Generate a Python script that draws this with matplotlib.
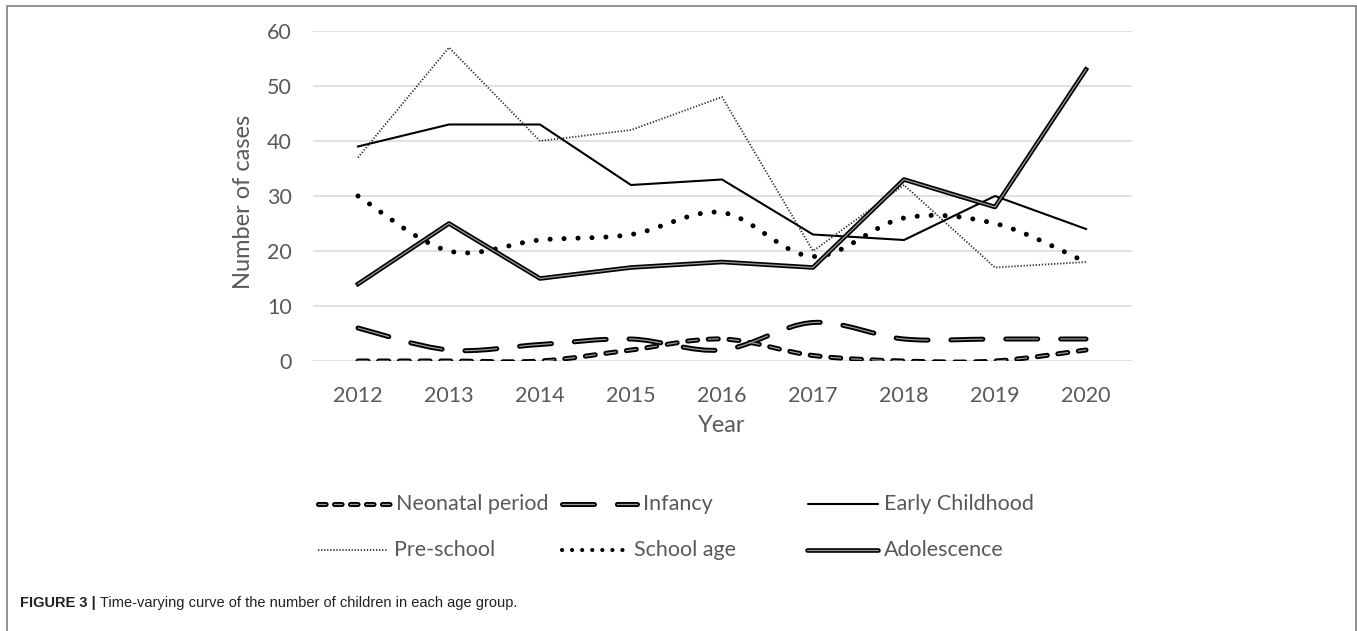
import numpy as np
import matplotlib
matplotlib.use("Agg")
import matplotlib.pyplot as plt
from matplotlib.path import Path
from matplotlib.patches import PathPatch, Rectangle
from matplotlib.lines import Line2D

plt.rcParams['lines.scale_dashes'] = False
plt.rcParams['font.family'] = ['Lato', 'DejaVu Sans']

years = [2012, 2013, 2014, 2015, 2016, 2017, 2018, 2019, 2020]
neonatal = [0, 0, 0, 2, 4, 1, 0, 0, 2]
infancy = [6, 2, 3, 4, 2, 7, 4, 4, 4]
early_childhood = [39, 43, 43, 32, 33, 23, 22, 30, 24]
pre_school = [37, 57, 40, 42, 48, 20, 32, 17, 18]
school_age = [30, 20, 22, 23, 27, 19, 26, 25, 18]
adolescence = [14, 25, 15, 17, 18, 17, 33, 28, 53]

W, H = 1357, 631
GREY = '#595959'


def px(x, y):
    # pixel position (from top-left) -> figure fraction
    return x / W, 1 - y / H


def smooth_path(xs, ys):
    # Bezier curve through every point, like a spreadsheet "smoothed line"
    pts = np.column_stack([xs, ys]).astype(float)
    n = len(pts)
    verts = [pts[0]]
    codes = [Path.MOVETO]
    for i in range(n - 1):
        p0 = pts[i - 1] if i > 0 else pts[i]
        p1, p2 = pts[i], pts[i + 1]
        p3 = pts[i + 2] if i + 2 < n else pts[i + 1]
        verts += [p1 + (p2 - p0) / 6, p2 - (p3 - p1) / 6, p2]
        codes += [Path.CURVE4] * 3
    return Path(verts, codes)


neo_dash = (0, (7.2, 7.7))
inf_dash = (0, (23, 16.5))
dot_dash = (0, (0.05, 10))
fine_dot = (0, (0.9, 1.3))

fig = plt.figure(figsize=(W / 100, H / 100), dpi=100)
ax = fig.add_axes([312.5 / W, 1 - 361 / H, 819 / W, 330 / H])

x = np.arange(len(years))

# smoothed series
for vals, dash, double in [(neonatal, neo_dash, True),
                           (infancy, inf_dash, True),
                           (school_age, dot_dash, False)]:
    path = smooth_path(x, vals)
    ax.add_patch(PathPatch(path, fill=False, edgecolor='black', lw=3.6,
                           linestyle=dash, capstyle='round', joinstyle='round', zorder=3))
    if double:
        ax.add_patch(PathPatch(path, fill=False, edgecolor='#9a9a9a', lw=0.9,
                               linestyle=dash, capstyle='round', joinstyle='round', zorder=4))

# straight series
ax.plot(x, early_childhood, color='black', lw=1.5, zorder=3)
ax.plot(x, pre_school, color='#2a2a2a', lw=1.3, linestyle=fine_dot, zorder=3)
ax.plot(x, adolescence, color='black', lw=3.3, zorder=3)
ax.plot(x, adolescence, color='#9a9a9a', lw=0.9, zorder=4)

ax.set_xlim(-0.5, len(years) - 0.5)
ax.set_ylim(0, 60)
ax.set_yticks(range(0, 61, 10))
ax.set_xticks(x)
ax.set_xticklabels([str(y) for y in years])
ax.grid(axis='y', color='#d9d9d9', lw=1.1)
ax.set_axisbelow(True)
for s in ax.spines.values():
    s.set_visible(False)
ax.tick_params(length=0, labelsize=15.5, labelcolor=GREY)
ax.tick_params(axis='y', pad=15)
ax.tick_params(axis='x', pad=18)

fig.text(*px(244, 202), 'Number of cases', rotation=90, ha='center', va='center',
         fontsize=17, color=GREY)
fig.text(*px(722, 425), 'Year', ha='center', va='center', fontsize=17, color=GREY)

# legend, two rows of three
entries = [
    ('Neonatal period', 318, 390, 504, 'neo'),
    ('Infancy', 562, 637, 504, 'inf'),
    ('Early Childhood', 808, 878, 504, 'early'),
    ('Pre-school', 318, 388, 550, 'pre'),
    ('School age', 562, 628, 550, 'school'),
    ('Adolescence', 807, 878, 550, 'adol'),
]
for label, x0, x1, yy, kind in entries:
    (fx0, fy), (fx1, _) = px(x0, yy), px(x1, yy)
    xs, ys = [fx0, fx1], [fy, fy]
    kw = dict(transform=fig.transFigure, solid_capstyle='round', dash_capstyle='round')
    if kind == 'neo':
        fig.add_artist(Line2D(xs, ys, color='black', lw=3.6, linestyle=(0, (5.5, 6)), **kw))
        fig.add_artist(Line2D(xs, ys, color='#9a9a9a', lw=0.9, linestyle=(0, (5.5, 6)), **kw))
    elif kind == 'inf':
        fig.add_artist(Line2D(xs, ys, color='black', lw=3.6, linestyle=inf_dash, **kw))
        fig.add_artist(Line2D(xs, ys, color='#9a9a9a', lw=0.9, linestyle=inf_dash, **kw))
    elif kind == 'early':
        fig.add_artist(Line2D(xs, ys, color='black', lw=1.5, **kw))
    elif kind == 'pre':
        fig.add_artist(Line2D(xs, ys, color='#2a2a2a', lw=1.3, linestyle=fine_dot,
                              transform=fig.transFigure))
    elif kind == 'school':
        fig.add_artist(Line2D(xs, ys, color='black', lw=3.0, linestyle=(0, (0.05, 7.2)), **kw))
    else:
        fig.add_artist(Line2D(xs, ys, color='black', lw=3.3, **kw))
        fig.add_artist(Line2D(xs, ys, color='#9a9a9a', lw=0.9, **kw))
    fig.text(*px(x1 + 6, yy), label, ha='left', va='center', fontsize=15.5, color=GREY)

# caption frame and text
fig.add_artist(Rectangle(px(7, 640), 1349 / W, 634 / H, transform=fig.transFigure,
                         fill=False, edgecolor='#7f7f7f', lw=1.2, clip_on=False))
cap = fig.text(*px(20, 603), 'FIGURE 3 |', ha='left', va='center', fontsize=10.5,
               fontweight='bold', color='#231f20', family=['Liberation Sans'])
fig.add_artist(plt.Annotation(' Time-varying curve of the number of children in each age group.',
                              xy=(1, 0), xycoords=cap, ha='left', va='bottom', fontsize=10.5,
                              color='#231f20', family=['Liberation Sans']))

fig.savefig('out.png', dpi=100)
